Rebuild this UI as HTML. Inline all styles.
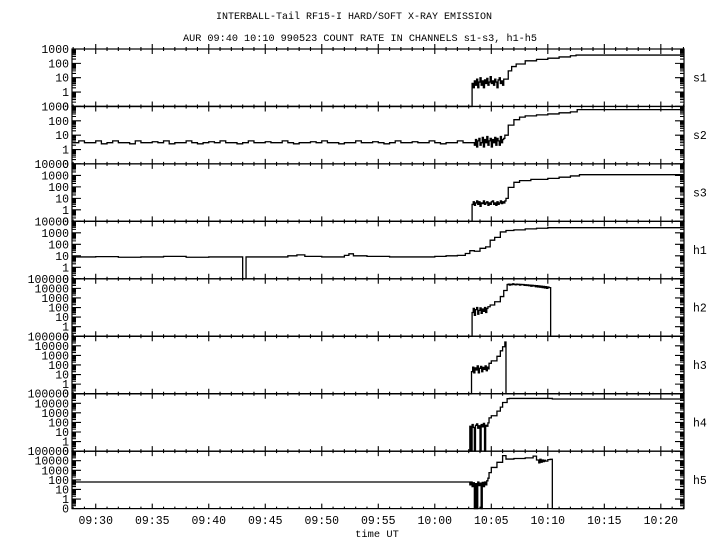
<!DOCTYPE html>
<html><head><meta charset="utf-8"><style>
html,body{margin:0;padding:0;background:#fff;}
svg{display:block;}
text{font-family:"Liberation Mono","DejaVu Sans Mono",monospace;fill:#000;}
</style></head><body>
<svg id="chart" width="720" height="550" viewBox="0 0 720 550" xmlns="http://www.w3.org/2000/svg">
<text x="354" y="19" font-size="10.4" text-anchor="middle" textLength="276" lengthAdjust="spacingAndGlyphs">INTERBALL-Tail RF15-I HARD/SOFT X-RAY EMISSION</text>
<text x="360" y="41" font-size="10.4" text-anchor="middle" textLength="354" lengthAdjust="spacingAndGlyphs">AUR 09:40 10:10 990523  COUNT RATE IN CHANNELS s1-s3, h1-h5</text>
<text x="377" y="537" font-size="10.4" text-anchor="middle">time UT</text>
<g id="g"></g>
</svg>
<script>
// ---- data (time in minutes after 09:00, counts) ----
const channelNames = ["s1","s2","s3","h1","h2","h3","h4","h5"];
const channelMaxDecade = [3,3,4,4,5,5,5,5];
const tickLabels = ["09:30","09:35","09:40","09:45","09:50","09:55","10:00","10:05","10:10","10:15","10:20"];
const tickMinutes = [30,35,40,45,50,55,60,65,70,75,80];

const s1T = [27.9,63.3];
const s1V = [0,0];
const s1NoiseStart = 63.3;
const s1Noise = [4,2,6,3,8,2,5,10,3,6,2,7,4,9,3,5,12,4,6,3,8,5,2,7,10,4,6,3,8];
const s1TailT = [66.3,66.5,66.8,67.2,68,69,70,71,72,72.5,82.1];
const s1TailV = [8,30,60,90,150,190,230,280,340,380,380];

const s2BaseStart = 28;
const s2Base = [3,4,3,3,4,2.5,3,4,3,3,2.5,4,3,3,3.5,3,4,2.5,3,3,4,3,2.5,3,3.5,3,4,3,3,2.5,3,4,3,3,3.5,3,3,4,3,2.5,3,3,3.5,3,4,3,3,2.5,3,3,4,3,3,3.5,3,2.5,3,4,3,3,3.5,3,3,4,3,2.5,3,3,4,3,3];
const s2NoiseStart = 63.5;
const s2Noise = [2,5,1.5,4,6,2,3,7,1.5,5,3,8,2,4,6,1.5,5,3,7,2,6,4,2,8,3,5,6];
const s2TailT = [66.2,66.5,67,67.5,68,69,70,71,72,72.6,82.1];
const s2TailV = [10,50,120,180,220,260,300,360,420,600,600];

const s3T = [27.9,63.3];
const s3V = [0,0];
const s3NoiseStart = 63.3;
const s3Noise = [3,5,2.5,4,6,3,5,2,4,3.5,6,3,4,5,2.5,4,3,5,6,3,4,2.5,5,3,4,6,3.5,5,4,6];
const s3TailT = [66.3,66.5,67,67.5,68.5,70,71,72,72.8,82.1];
const s3TailV = [10,90,250,350,450,550,700,900,1150,1150];

const h1T = [27.9,30,32,34,36,38,40,42,43.0,43.3,45,47,47.8,48.5,50,52,52.4,52.8,54,56,58,60,61,62,62.7,63.1,63.5,64,64.5,64.9,65.3,65.8,66.3,67,68,69,70,82.1];
const h1V = [8,8.5,7.5,8,9,7.5,8,8,0,8,8,10,12,9,8,11,15,10,9,8,8,9,10,11,16,28,25,45,60,230,400,1200,1600,1800,2200,2500,2800,2800];

const h2T = [27.9,63.3];
const h2V = [0,0];
const h2NoiseStart = 63.3;
const h2Noise = [30,80,15,60,100,20,50,90,25,70,40,100,30,80];
const h2MidT = [64.7,64.9,65.3,65.8,66.1];
const h2MidV = [120,185,400,1400,6000];
const h2PlatStart = 66.4;
const h2Plat = [25000,28000,22000,27000,24000,30000,26000,23000,28000,25000,27000,22000,26000,24000,25000,21000,24000,20000,23000,19000,22000,17000,21000,18000,20000,15000,19000,14000,18000,13000,17000,12000,16000,11000,15000,10000,14000,12000];
const h2TailT = [70.25,82.1];
const h2TailV = [0,0];

const h3T = [27.9,63.25];
const h3V = [0,0];
const h3NoiseStart = 63.25;
const h3Noise = [20,60,15,50,30,80,15,45,70,20,55,35,80,25,60,40];
const h3TailT = [64.8,65,65.5,65.8,66,66.2,66.3,82.1];
const h3TailV = [150,270,800,3000,8000,25000,0,0];

const h4T = [27.9,63.1];
const h4V = [0,0];
const h4NoiseStart = 63.1;
const h4Noise = [40,0,60,30,0,50,70,25,45,0,60,35,80,0,50,40,90];
const h4TailT = [64.8,65,65.5,65.8,66,66.4,66.6,70.3,70.4,82.1];
const h4TailV = [300,500,1500,4000,12000,30000,32000,32000,28000,28000];

const h5T = [27.9,63.1];
const h5V = [60,60];
const h5NoiseStart = 63.1;
const h5Noise = [30,60,20,50,0,40,0,60,25,45,0,55,20,60,30,80,150];
const h5TailT = [64.8,65,65.5,66,66.3,67,68,68.7,69,69.2,69.3,69.4,69.5,69.6,69.7,69.8,70,70.2,70.4,82.1];
const h5TailV = [570,2000,6800,34000,15000,17000,20000,30000,12000,6000,14000,7000,12000,8000,11000,9000,13000,14000,0,0];

// ---- assemble series ----
function noisePts(start, vals, step){ return vals.map((v,i)=>[start+i*step, v]); }
function zip(T,V){ return T.map((t,i)=>[t,V[i]]); }
const series = [
  zip(s1T,s1V).concat(noisePts(s1NoiseStart,s1Noise,0.1), zip(s1TailT,s1TailV)),
  noisePts(s2BaseStart,s2Base,0.5).concat(noisePts(s2NoiseStart,s2Noise,0.1), zip(s2TailT,s2TailV)),
  zip(s3T,s3V).concat(noisePts(s3NoiseStart,s3Noise,0.1), zip(s3TailT,s3TailV)),
  zip(h1T,h1V),
  zip(h2T,h2V).concat(noisePts(h2NoiseStart,h2Noise,0.1), zip(h2MidT,h2MidV), noisePts(h2PlatStart,h2Plat,0.1), zip(h2TailT,h2TailV)),
  zip(h3T,h3V).concat(noisePts(h3NoiseStart,h3Noise,0.1), zip(h3TailT,h3TailV)),
  zip(h4T,h4V).concat(noisePts(h4NoiseStart,h4Noise,0.1), zip(h4TailT,h4TailV)),
  zip(h5T,h5V).concat(noisePts(h5NoiseStart,h5Noise,0.1), zip(h5TailT,h5TailV))
];

// ---- layout ----
const X0=72, X1=684, T0=27.9, T1=82.05, TOP=49, BOT=508.6;
const PH=(BOT-TOP)/8;
const xOf = t => X0 + (t-T0)/(T1-T0)*(X1-X0);
function yOf(i,v){
  const n = channelMaxDecade[i]+1;
  const lv = Math.log10(Math.max(v,0.1));
  const bottom = TOP+(i+1)*PH;
  return bottom - (lv+1)/n*PH;
}
const NS="http://www.w3.org/2000/svg";
const g=document.getElementById('g');
function mk(tag,attrs){const e=document.createElementNS(NS,tag);for(const k in attrs)e.setAttribute(k,attrs[k]);g.appendChild(e);return e;}

for(let i=0;i<8;i++){
  const top=TOP+i*PH, bottom=top+PH;
  const frame=mk('rect',{x:X0,y:top,width:X1-X0,height:PH,fill:'none',stroke:'#000','stroke-width':1.2});
  
  
  // y ticks and labels
  let d='';
  const maxD=channelMaxDecade[i];
  for(let dec=-1;dec<=maxD;dec++){
    const y=yOf(i,Math.pow(10,dec));
    d+=`M${X0} ${y}h9M${X1} ${y}h-9`;
    if(dec<maxD){
      for(let m=2;m<=9;m++){
        const ym=yOf(i,m*Math.pow(10,dec));
        d+=`M${X0} ${ym}h4M${X1} ${ym}h-4`;
      }
    }
    const lab=mk('text',{x:69,y:y+4,'font-size':11.5,'text-anchor':'end'});
    lab.textContent = dec<0 ? '0' : String(Math.pow(10,dec));
    
    
  }
  // x ticks on top border of each panel and bottom
  for(let m=28;m<=82;m++){
    const x=xOf(m); const major=(m%5===0);
    const len=major?5:2;
    d+=`M${x} ${top-len}V${top+len}`;
    if(i===7) d+=`M${x} ${bottom-len}V${bottom}`;
  }
  const ax=mk('path',{d:d,stroke:'#000','stroke-width':1.1,fill:'none'});
  
  
  const cl=mk('text',{x:693,y:(top+bottom)/2+4,'font-size':11.5});
  cl.textContent=channelNames[i];
  
  
  // series line (step)
  const pts=series[i];
  let p=`M${xOf(pts[0][0]).toFixed(2)} ${yOf(i,pts[0][1]).toFixed(2)}`;
  for(let k=1;k<pts.length;k++){
    p+=`H${Math.min(xOf(pts[k][0]),X1).toFixed(2)}V${yOf(i,pts[k][1]).toFixed(2)}`;
  }
  const line=mk('path',{d:p,stroke:'#000','stroke-width':1.3,fill:'none'});
  
  
}
tickLabels.forEach((lbl,j)=>{
  const t=mk('text',{x:xOf(tickMinutes[j]),y:524,'font-size':11.5,'text-anchor':'middle'});
  t.textContent=lbl;
  
  
});
</script>
</body></html>
